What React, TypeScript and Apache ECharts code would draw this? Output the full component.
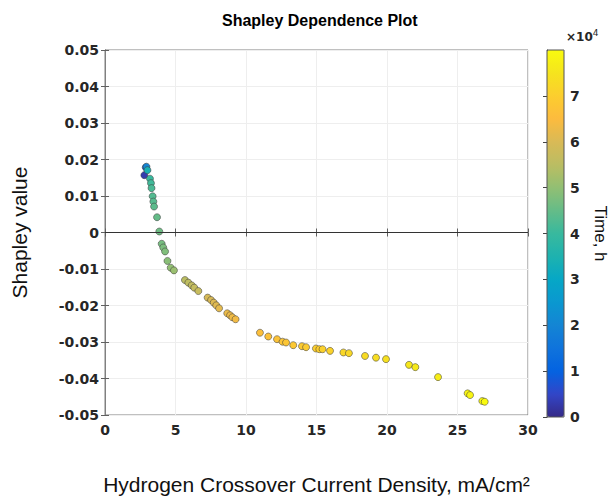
import React, { useEffect, useRef } from "react";
import * as echarts from "echarts";

// Hydrogen crossover current density (mA/cm²)
const crossover = [
  2.79, 2.89, 2.94, 3.01, 3.19, 3.26, 3.30, 3.38, 3.43, 3.48, 3.69, 3.85,
  4.02, 4.13, 4.26, 4.43, 4.66, 4.89,
  5.67, 5.91, 6.15, 6.33, 6.62,
  7.28, 7.52, 7.71, 7.89, 8.09,
  8.67, 8.87, 9.03, 9.26,
  10.99, 11.58, 12.20, 12.59, 12.84, 13.35, 13.97, 14.26, 14.96, 15.20, 15.43, 15.96,
  16.91, 17.30, 18.44, 19.22, 19.93, 21.56, 22.01, 23.62, 25.72, 25.89, 26.76, 26.93,
];

// Shapley values
const shapley = [
  0.01571, 0.01784, 0.01803, 0.01708, 0.01475, 0.01352, 0.01216, 0.00992, 0.00847, 0.0071, 0.00418, 0.00027,
  -0.00309, -0.0041, -0.00519, -0.00779, -0.00964, -0.01038,
  -0.01303, -0.01374, -0.01448, -0.01511, -0.01604,
  -0.01784, -0.0185, -0.01921, -0.01995, -0.02077,
  -0.02213, -0.02268, -0.02322, -0.02377,
  -0.02746, -0.0285, -0.02923, -0.02992, -0.03014, -0.03087, -0.03115, -0.03142, -0.03178, -0.03197, -0.03197, -0.03243,
  -0.03287, -0.03306, -0.03383, -0.03429, -0.0347, -0.03626, -0.03689, -0.03962, -0.04407, -0.04454, -0.04617, -0.04637,
];

// Time, h
const timeH = [
  3000, 10000, 20000, 34000, 40000, 41000, 42000, 43000, 43500, 44000, 45000, 46000,
  47000, 47500, 48000, 49000, 50000, 51000,
  55000, 55500, 56000, 56500, 57000,
  59500, 60000, 60500, 61000, 61500,
  62500, 63000, 63300, 63600,
  66000, 66500, 67000, 67500, 67800, 68500, 69000, 69500, 70000, 70300, 70600, 71000,
  72000, 72300, 73000, 73500, 74000, 75500, 76000, 77000, 78500, 78800, 79500, 79800,
];

const xTicks = [0, 5, 10, 15, 20, 25, 30];
const colorbarTicks = [0, 1, 2, 3, 4, 5, 6, 7];

const parula = [
  "#352a87", "#3246c8", "#0363e1", "#0f73dc", "#1485d4", "#0a98d0", "#06a7c6", "#1eb2af",
  "#38b99e", "#65bc88", "#92bf73", "#bbbd62", "#d9ba56", "#fcbb3e", "#fcce2e", "#f5e41e", "#f9fb0e",
];

export default function App() {
  const ref = useRef<HTMLDivElement>(null);

  useEffect(() => {
    if (!ref.current) return;
    const chart = echarts.init(ref.current, undefined, { renderer: "svg" });
    const data = crossover.map((x, i) => [x, shapley[i], timeH[i]]);
    const tickFont = {
      fontFamily: "DejaVu Sans",
      fontWeight: "bold" as const,
      fontSize: 14,
      color: "#262626",
    };

    chart.setOption({
      animation: false,
      backgroundColor: "#ffffff",
      title: {
        text: "Shapley Dependence Plot",
        left: 217,
        top: 7,
        textStyle: {
          fontFamily: "Liberation Sans",
          fontWeight: "bold",
          fontSize: 16,
          color: "#000",
        },
      },
      grid: [
        {
          left: 105,
          right: 87,
          top: 50,
          bottom: 84,
          show: true,
          borderColor: "#808080",
          borderWidth: 1,
          backgroundColor: "transparent",
        },
        {
          left: 547,
          width: 17,
          top: 50,
          height: 367,
          show: true,
          borderColor: "#555",
          borderWidth: 1,
          backgroundColor: "transparent",
          z: 10,
        },
      ],
      xAxis: [
        {
          type: "value",
          gridIndex: 0,
          min: xTicks[0],
          max: xTicks[xTicks.length - 1],
          interval: 5,
          axisLine: { show: true, lineStyle: { color: "#808080" } },
          axisTick: { show: true, inside: true, length: 4, lineStyle: { color: "#606060" } },
          axisLabel: { ...tickFont, margin: 8 },
          splitLine: { show: true, lineStyle: { color: "#eeeeee", width: 1 } },
          name: "Hydrogen Crossover Current Density, mA/cm²",
          nameLocation: "middle",
          nameGap: 59,
          nameTextStyle: { fontFamily: "Liberation Sans", fontSize: 21, color: "#111" },
        },
        {
          type: "value",
          gridIndex: 0,
          position: "top",
          min: xTicks[0],
          max: xTicks[xTicks.length - 1],
          interval: 5,
          axisLine: { show: true, lineStyle: { color: "#808080" } },
          axisTick: { show: true, inside: true, length: 4, lineStyle: { color: "#606060" } },
          axisLabel: { show: false },
          splitLine: { show: false },
        },
        {
          type: "value",
          gridIndex: 1,
          min: 0,
          max: 1,
          show: false,
        },
      ],
      yAxis: [
        {
          type: "value",
          gridIndex: 0,
          min: -0.05,
          max: 0.05,
          interval: 0.01,
          axisLine: { show: true, lineStyle: { color: "#808080" } },
          axisTick: { show: true, inside: true, length: 4, lineStyle: { color: "#606060" } },
          axisLabel: {
            ...tickFont,
            margin: 6,
            formatter: (v: number) => {
              const r = Math.round(v * 100) / 100;
              return r === 0 ? "0" : r.toFixed(2);
            },
          },
          splitLine: { show: true, lineStyle: { color: "#eeeeee", width: 1 } },
          name: "Shapley value",
          nameLocation: "middle",
          nameGap: 75,
          nameTextStyle: { fontFamily: "Liberation Sans", fontSize: 21, color: "#111" },
        },
        {
          type: "value",
          gridIndex: 0,
          position: "right",
          min: -0.05,
          max: 0.05,
          interval: 0.01,
          axisLine: { show: true, lineStyle: { color: "#808080" } },
          axisTick: { show: true, inside: true, length: 4, lineStyle: { color: "#606060" } },
          axisLabel: { show: false },
          splitLine: { show: false },
        },
        {
          type: "value",
          gridIndex: 1,
          position: "right",
          min: 0,
          max: 80000,
          interval: 10000,
          axisLine: { show: true, lineStyle: { color: "#555" } },
          axisTick: { show: true, inside: true, length: 4, lineStyle: { color: "#444" } },
          axisLabel: {
            ...tickFont,
            margin: 6,
            showMaxLabel: false,
            formatter: (v: number) => {
              const t = v / 10000;
              return colorbarTicks.includes(t) ? String(t) : "";
            },
          },
          splitLine: { show: false },
          name: "Time, h",
          nameLocation: "middle",
          nameRotate: -90,
          nameGap: 28,
          nameTextStyle: { fontFamily: "Liberation Sans", fontSize: 17, color: "#111" },
        },
      ],
      visualMap: {
        type: "continuous",
        seriesIndex: 0,
        dimension: 2,
        min: 0,
        max: 80000,
        show: true,
        calculable: false,
        left: 547,
        top: 50,
        padding: 0,
        itemWidth: 17,
        itemHeight: 367,
        inRange: { color: parula },
      },
      graphic: [
        {
          type: "text",
          left: 566,
          top: 28,
          style: {
            text: "{a|×10}{b|4}",
            rich: {
              a: { fontFamily: "DejaVu Sans", fontWeight: "bold", fontSize: 12, fill: "#262626" },
              b: { fontFamily: "DejaVu Sans", fontSize: 9, fill: "#262626", verticalAlign: "top", padding: [0, 0, 8, 0] },
            },
          },
        },
      ],
      series: [
        {
          type: "scatter",
          xAxisIndex: 0,
          yAxisIndex: 0,
          data,
          symbol: "circle",
          symbolSize: 7,
          itemStyle: { borderColor: "rgba(60,60,60,0.75)", borderWidth: 0.7, opacity: 1 },
          markLine: {
            silent: true,
            symbol: ["none", "none"],
            label: { show: false },
            lineStyle: { color: "#333", width: 1, type: "solid" },
            data: [{ yAxis: 0 }],
          },
          z: 3,
        },
      ],
    });
    return () => chart.dispose();
  }, []);

  return (
    <div
      ref={ref}
      style={{ position: "fixed", left: 0, top: 0, width: 615, height: 500 }}
    />
  );
}
